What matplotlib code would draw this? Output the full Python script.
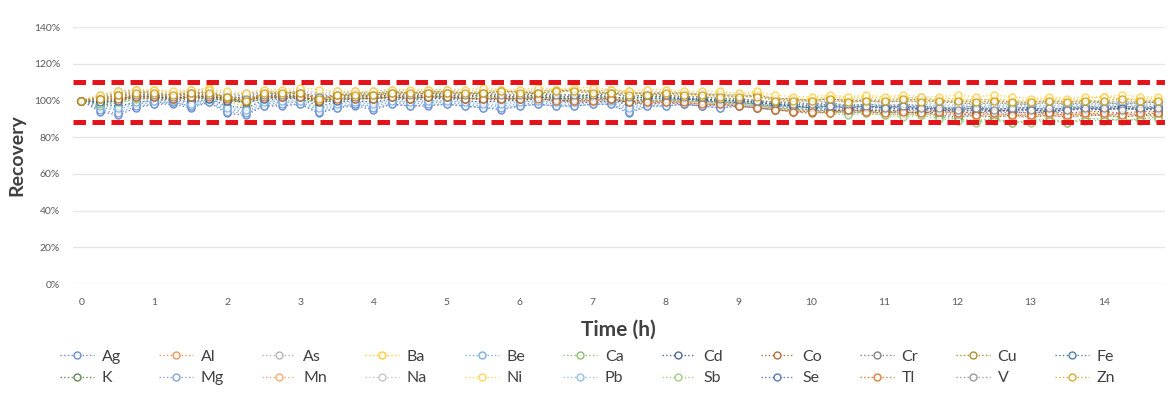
import numpy as np
import matplotlib.pyplot as plt
from matplotlib.ticker import PercentFormatter

plt.rcParams['font.family'] = ['Lato', 'DejaVu Sans']

# sampling every 15 min, 0 .. 14.75 h
time_h = np.arange(60) * 0.25
hour_ticks = list(range(15))

# recovery (%), one list per element
Ag = [100, 94, 92, 96, 98, 98, 96, 99, 93, 92, 97, 97, 98, 93, 96, 97, 95, 98, 97, 97,
      98, 97, 96, 95, 97, 98, 97, 97, 98, 98, 93, 97, 97, 98, 97, 96, 97, 96, 95, 94,
      94, 95, 93, 94, 93, 95, 94, 93, 92, 93, 94, 93, 94, 93, 95, 96, 95, 96, 95, 96]
Al = [100, 101, 103, 102, 102, 101, 103, 102, 101, 100, 102, 103, 102, 100, 101, 101, 102, 101, 103, 102,
      102, 101, 101, 102, 101, 102, 101, 100, 100, 101, 100, 99, 100, 99, 98, 98, 99, 98, 96, 95,
      95, 94, 96, 95, 94, 95, 95, 94, 93, 94, 92, 93, 92, 93, 92, 93, 92, 93, 92, 93]
As = [100, 103, 105, 106, 104, 103, 105, 104, 103, 104, 105, 104, 105, 103, 104, 105, 104, 105, 104, 105,
      105, 104, 105, 104, 104, 105, 106, 105, 104, 105, 104, 104, 104, 103, 104, 103, 103, 102, 101, 101,
      100, 101, 100, 101, 100, 101, 102, 100, 99, 101, 100, 99, 99, 100, 99, 100, 99, 100, 99, 99]
Ba = [100, 102, 99, 104, 106, 104, 105, 107, 99, 97, 105, 105, 104, 97, 103, 104, 103, 104, 105, 104,
      105, 104, 105, 106, 104, 105, 106, 106, 105, 106, 105, 103, 105, 104, 103, 104, 103, 104, 101, 100,
      101, 102, 101, 102, 101, 102, 100, 101, 101, 100, 101, 100, 100, 101, 100, 101, 102, 101, 101, 101]
Be = [100, 96, 95, 98, 99, 99, 97, 100, 95, 94, 98, 99, 99, 95, 97, 98, 97, 99, 98, 99,
      99, 98, 97, 97, 98, 99, 98, 98, 99, 99, 95, 98, 98, 99, 98, 97, 98, 97, 96, 96,
      96, 97, 96, 97, 97, 96, 97, 96, 96, 97, 96, 97, 97, 96, 97, 97, 97, 98, 97, 97]
Ca = [100, 97, 99, 101, 101, 100, 102, 101, 100, 99, 101, 102, 101, 99, 100, 101, 101, 102, 101, 102,
      102, 101, 102, 101, 101, 102, 101, 101, 102, 101, 100, 101, 101, 100, 100, 99, 99, 98, 97, 96,
      95, 94, 93, 94, 93, 92, 93, 91, 90, 89, 90, 88, 89, 90, 88, 90, 90, 89, 90, 91]
Cd = [100, 99, 101, 103, 103, 102, 101, 103, 101, 102, 103, 102, 103, 101, 102, 103, 102, 103, 102, 103,
      103, 102, 103, 102, 102, 103, 102, 102, 103, 102, 101, 102, 102, 101, 101, 100, 100, 99, 98, 98,
      97, 98, 96, 97, 96, 97, 95, 96, 95, 96, 94, 95, 95, 94, 95, 96, 95, 96, 95, 96]
Co = [100, 100, 102, 101, 101, 102, 100, 102, 100, 101, 102, 101, 102, 100, 101, 102, 101, 102, 101, 102,
      101, 102, 100, 101, 100, 101, 100, 99, 99, 100, 99, 98, 99, 98, 97, 98, 97, 96, 95, 94,
      93, 94, 95, 94, 95, 94, 93, 95, 94, 93, 95, 94, 93, 94, 93, 94, 94, 93, 94, 94]
Cr = [100, 101, 103, 104, 103, 102, 104, 103, 102, 103, 104, 103, 104, 102, 103, 103, 103, 104, 103, 104,
      104, 103, 104, 103, 103, 104, 103, 103, 103, 104, 102, 103, 103, 102, 102, 101, 101, 100, 99, 99,
      98, 99, 97, 98, 97, 98, 97, 96, 96, 97, 95, 96, 96, 95, 96, 97, 96, 97, 96, 97]
Cu = [100, 102, 104, 105, 104, 103, 104, 105, 101, 99, 104, 104, 105, 100, 103, 104, 104, 105, 104, 105,
      105, 104, 104, 105, 105, 104, 105, 106, 105, 104, 104, 104, 104, 104, 103, 103, 102, 103, 101, 101,
      100, 101, 100, 100, 99, 100, 101, 99, 99, 98, 99, 98, 98, 99, 98, 99, 99, 98, 99, 99]
Fe = [100, 98, 97, 99, 100, 101, 99, 101, 97, 96, 100, 101, 101, 97, 99, 100, 99, 101, 100, 101,
      101, 100, 99, 100, 100, 101, 100, 100, 101, 101, 97, 100, 100, 101, 100, 99, 99, 98, 97, 97,
      96, 97, 96, 97, 96, 97, 96, 95, 95, 96, 95, 96, 96, 95, 96, 96, 96, 97, 96, 96]
K = [100, 98, 100, 102, 102, 101, 103, 102, 101, 100, 102, 103, 102, 100, 101, 102, 102, 103, 102, 103,
     103, 102, 103, 102, 102, 103, 102, 102, 103, 102, 101, 102, 102, 101, 101, 100, 100, 99, 98, 97,
     96, 95, 94, 95, 94, 93, 94, 92, 91, 92, 91, 92, 91, 92, 91, 92, 92, 91, 92, 92]
Mg = [100, 95, 93, 97, 98, 99, 97, 99, 94, 93, 97, 98, 98, 94, 96, 98, 96, 98, 97, 98,
      98, 97, 96, 96, 97, 98, 97, 97, 98, 98, 94, 97, 97, 98, 97, 96, 97, 96, 95, 95,
      95, 96, 94, 95, 95, 96, 95, 94, 94, 95, 95, 94, 95, 94, 96, 95, 96, 95, 96, 95]
Mn = [100, 101, 102, 103, 102, 103, 102, 103, 102, 101, 103, 102, 103, 101, 102, 102, 102, 103, 102, 103,
      102, 103, 102, 102, 102, 102, 101, 101, 101, 102, 100, 100, 100, 100, 99, 99, 98, 97, 96, 95,
      94, 93, 94, 93, 92, 93, 92, 93, 92, 91, 92, 91, 91, 92, 91, 92, 92, 91, 92, 91]
Na = [100, 102, 104, 105, 105, 104, 106, 105, 104, 103, 105, 105, 106, 104, 105, 104, 105, 106, 105, 106,
      106, 105, 106, 105, 105, 106, 105, 105, 105, 106, 104, 105, 105, 104, 104, 103, 103, 102, 101, 100,
      99, 100, 99, 100, 99, 100, 99, 98, 98, 99, 98, 99, 98, 99, 98, 98, 99, 98, 99, 99]
Ni = [100, 103, 105, 106, 106, 105, 106, 106, 105, 104, 106, 106, 107, 106, 105, 105, 105, 106, 106, 106,
      106, 106, 107, 106, 106, 107, 106, 107, 107, 106, 105, 106, 106, 105, 105, 105, 104, 105, 103, 102,
      102, 103, 102, 103, 102, 103, 102, 102, 103, 102, 103, 102, 101, 102, 101, 102, 102, 103, 102, 102]
Pb = [100, 97, 96, 99, 100, 100, 98, 101, 96, 95, 99, 100, 100, 96, 98, 99, 98, 100, 99, 100,
      100, 99, 98, 98, 99, 100, 99, 99, 100, 100, 96, 99, 99, 100, 99, 98, 99, 98, 97, 97,
      97, 98, 97, 98, 98, 97, 98, 97, 97, 98, 97, 98, 98, 97, 98, 98, 98, 99, 98, 98]
Sb = [100, 98, 99, 101, 102, 101, 102, 101, 100, 99, 101, 102, 102, 99, 101, 102, 101, 102, 101, 102,
      102, 101, 102, 101, 101, 102, 101, 101, 101, 101, 100, 100, 100, 100, 99, 99, 98, 97, 96, 95,
      94, 93, 92, 93, 92, 91, 92, 90, 89, 88, 89, 88, 88, 89, 88, 89, 89, 90, 89, 90]
Se = [100, 99, 100, 102, 102, 101, 102, 101, 100, 99, 101, 102, 102, 99, 100, 101, 101, 102, 101, 102,
      102, 101, 101, 101, 101, 102, 101, 101, 102, 101, 99, 101, 101, 101, 100, 100, 100, 99, 98, 97,
      96, 97, 95, 96, 96, 95, 96, 95, 94, 95, 94, 95, 95, 94, 95, 95, 95, 96, 95, 95]
Tl = [100, 101, 101, 102, 102, 101, 102, 102, 101, 100, 102, 102, 102, 100, 101, 101, 101, 102, 101, 102,
      102, 101, 101, 101, 101, 101, 100, 100, 100, 101, 99, 99, 99, 99, 98, 98, 97, 96, 95, 94,
      94, 93, 95, 94, 93, 94, 93, 94, 93, 92, 93, 92, 92, 93, 92, 93, 93, 92, 93, 93]
V = [100, 101, 103, 103, 103, 102, 104, 103, 102, 101, 103, 103, 104, 102, 103, 102, 103, 104, 103, 104,
     104, 103, 104, 103, 103, 104, 103, 103, 103, 104, 102, 103, 103, 102, 102, 101, 101, 100, 99, 98,
     98, 97, 98, 97, 96, 97, 96, 96, 95, 96, 95, 96, 95, 96, 95, 96, 96, 95, 96, 96]
Zn = [100, 101, 103, 104, 104, 103, 104, 104, 102, 100, 104, 104, 104, 101, 103, 103, 103, 104, 104, 104,
      104, 104, 104, 105, 104, 104, 105, 105, 104, 104, 103, 103, 104, 103, 103, 102, 102, 102, 100, 100,
      100, 101, 99, 100, 100, 101, 99, 100, 100, 99, 100, 99, 99, 100, 99, 100, 100, 101, 100, 100]

elements = ['Ag', 'Al', 'As', 'Ba', 'Be', 'Ca', 'Cd', 'Co', 'Cr', 'Cu', 'Fe',
            'K', 'Mg', 'Mn', 'Na', 'Ni', 'Pb', 'Sb', 'Se', 'Tl', 'V', 'Zn']
series = [Ag, Al, As, Ba, Be, Ca, Cd, Co, Cr, Cu, Fe,
          K, Mg, Mn, Na, Ni, Pb, Sb, Se, Tl, V, Zn]
colors = ['#4472C4', '#ED7D31', '#A5A5A5', '#FFC000', '#5B9BD5', '#70AD47',
          '#264478', '#9E480E', '#636363', '#997300', '#255E91', '#43682B',
          '#698ED0', '#F1975A', '#B7B7B7', '#FFCD33', '#7CAFDD', '#8CC168',
          '#335AA1', '#D26012', '#848484', '#CC9A00']

upper_limit = 110
lower_limit = 88.5

fig = plt.figure(figsize=(11.72, 4.11), dpi=100)
ax = fig.add_axes([0.062, 0.309, 0.932, 0.625])

handles = []
for name, vals, col in zip(elements, series, colors):
    h, = ax.plot(time_h, vals, linestyle=':', linewidth=1.0, color=col, alpha=0.8,
                 marker='o', markersize=5, markerfacecolor='white',
                 markeredgecolor=col, markeredgewidth=1.0, label=name)
    handles.append(h)

ax.axhline(upper_limit, color='#E3141B', linewidth=3.6, dashes=(2.5, 1.3), zorder=5)
ax.axhline(lower_limit, color='#E3141B', linewidth=3.6, dashes=(2.5, 1.3), zorder=5)

ax.set_ylim(0, 140)
ax.set_yticks(range(0, 141, 20))
ax.yaxis.set_major_formatter(PercentFormatter(decimals=0))
ax.set_xlim(-0.12, 14.84)
ax.set_xticks(hour_ticks)
ax.grid(axis='y', color='#E6E6E6', linewidth=1.0)
ax.set_axisbelow(True)
for s in ax.spines.values():
    s.set_visible(False)
ax.tick_params(length=0, labelsize=7.5, colors='#595959', pad=10)
ax.tick_params(axis='y', pad=9)

ax.set_ylabel('Recovery', fontsize=14, fontweight='bold', color='#404040', labelpad=6)
ax.set_xlabel('Time (h)', fontsize=15, fontweight='bold', color='#404040', labelpad=9)

# legend fills column by column, so interleave the two rows
n = 11
order = [i + r * n for i in range(n) for r in range(2)]
leg = fig.legend([handles[i] for i in order], [elements[i] for i in order],
                 loc='upper left', bbox_to_anchor=(0.046, 0.165), ncol=n,
                 frameon=False, fontsize=11.5, handlelength=2.1, handletextpad=0.5,
                 columnspacing=2.38, labelspacing=0.45, borderaxespad=0)
for t in leg.get_texts():
    t.set_color('#404040')

fig.savefig('out.png', dpi=100)
